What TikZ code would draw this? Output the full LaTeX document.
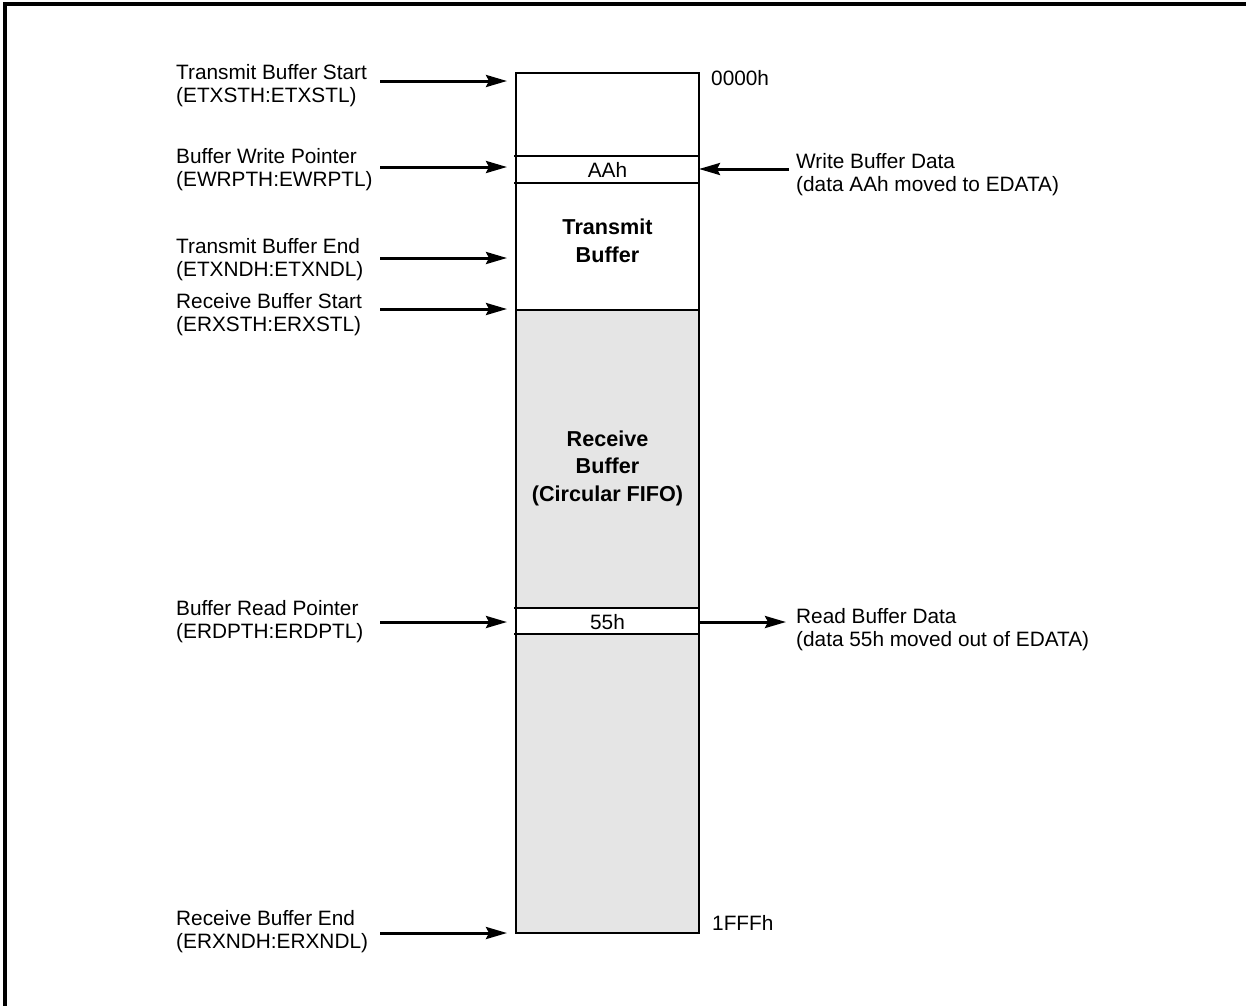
\documentclass[tikz,border=0pt]{standalone}
\usepackage{fontspec}
\setmainfont{Liberation Sans}
\usetikzlibrary{arrows.meta}
\begin{document}
\begin{tikzpicture}[x=1pt,y=-1pt,
  lbl/.style={font=\fontsize{20.8}{22.5}\selectfont, align=left, inner sep=0pt, anchor=base west},
  ttl/.style={font=\fontsize{21.6}{27.5}\selectfont\bfseries, align=center, inner sep=0pt, anchor=base},
  val/.style={font=\fontsize{20.8}{25}\selectfont, inner sep=0pt, anchor=base},
  ptr/.style={line width=3pt, -{Stealth[length=21pt,width=12pt,inset=3pt]}},
  wall/.style={line width=2.6pt},
  frame/.style={line width=3.2pt},
  rxfill/.style={fill=black!10},
]
\useasboundingbox (0,0) rectangle (1246,1005);
\draw[frame] (5,1012) -- (5,4) -- (1252,4);

% buffer column
\fill[rxfill] (516,310) rectangle (699,933);
\fill[white] (516,608) rectangle (699,634);
\draw[wall] (516,73) rectangle (699,933);
\draw[wall] (514,156) -- (699,156);
\draw[wall] (514,183) -- (699,183);
\draw[wall] (516,310) -- (699,310);
\draw[wall] (514,608) -- (699,608);
\draw[wall] (514,634) -- (699,634);

\node[val] (aah) at (607.5,177) {AAh};
\node[val] (v55) at (607.5,629) {55h};
\node[ttl] (tx) at (607.5,262) {Transmit\\Buffer};
\node[ttl] (rx) at (607.5,501) {Receive\\Buffer\\(Circular FIFO)};
\node[lbl] (a0) at (711,85) {0000h};
\node[lbl] (a1) at (712,930) {1FFFh};

% left labels (anchor = baseline of the last line)
\node[lbl] (tbs) at (176,102) {Transmit Buffer Start\\(ETXSTH:ETXSTL)};
\node[lbl] (bwp) at (176,186) {Buffer Write Pointer\\(EWRPTH:EWRPTL)};
\node[lbl] (tbe) at (176,276) {Transmit Buffer End\\(ETXNDH:ETXNDL)};
\node[lbl] (rbs) at (176,331) {Receive Buffer Start\\(ERXSTH:ERXSTL)};
\node[lbl] (brp) at (176,638) {Buffer Read Pointer\\(ERDPTH:ERDPTL)};
\node[lbl] (rbe) at (176,948) {Receive Buffer End\\(ERXNDH:ERXNDL)};

% right labels
\node[lbl] (wbd) at (796,191) {Write Buffer Data\\(data AAh moved to EDATA)};
\node[lbl] (rbd) at (796,646) {Read Buffer Data\\(data 55h moved out of EDATA)};

% arrow end points
\coordinate (tbsA) at (380,81);  \coordinate (tbsB) at (507,81);
\coordinate (bwpA) at (380,167); \coordinate (bwpB) at (507,167);
\coordinate (tbeA) at (380,258); \coordinate (tbeB) at (507,258);
\coordinate (rbsA) at (380,309); \coordinate (rbsB) at (507,309);
\coordinate (brpA) at (380,622); \coordinate (brpB) at (507,622);
\coordinate (rbeA) at (380,933); \coordinate (rbeB) at (507,933);
\coordinate (wbdA) at (789,169); \coordinate (wbdB) at (699,169);
\coordinate (rbdA) at (699,622); \coordinate (rbdB) at (786,622);

\draw[ptr] (tbsA) -- (tbsB);
\draw[ptr] (bwpA) -- (bwpB);
\draw[ptr] (tbeA) -- (tbeB);
\draw[ptr] (rbsA) -- (rbsB);
\draw[ptr] (brpA) -- (brpB);
\draw[ptr] (rbeA) -- (rbeB);
\draw[ptr] (wbdA) -- (wbdB);
\draw[ptr] (rbdA) -- (rbdB);
\end{tikzpicture}
\end{document}
